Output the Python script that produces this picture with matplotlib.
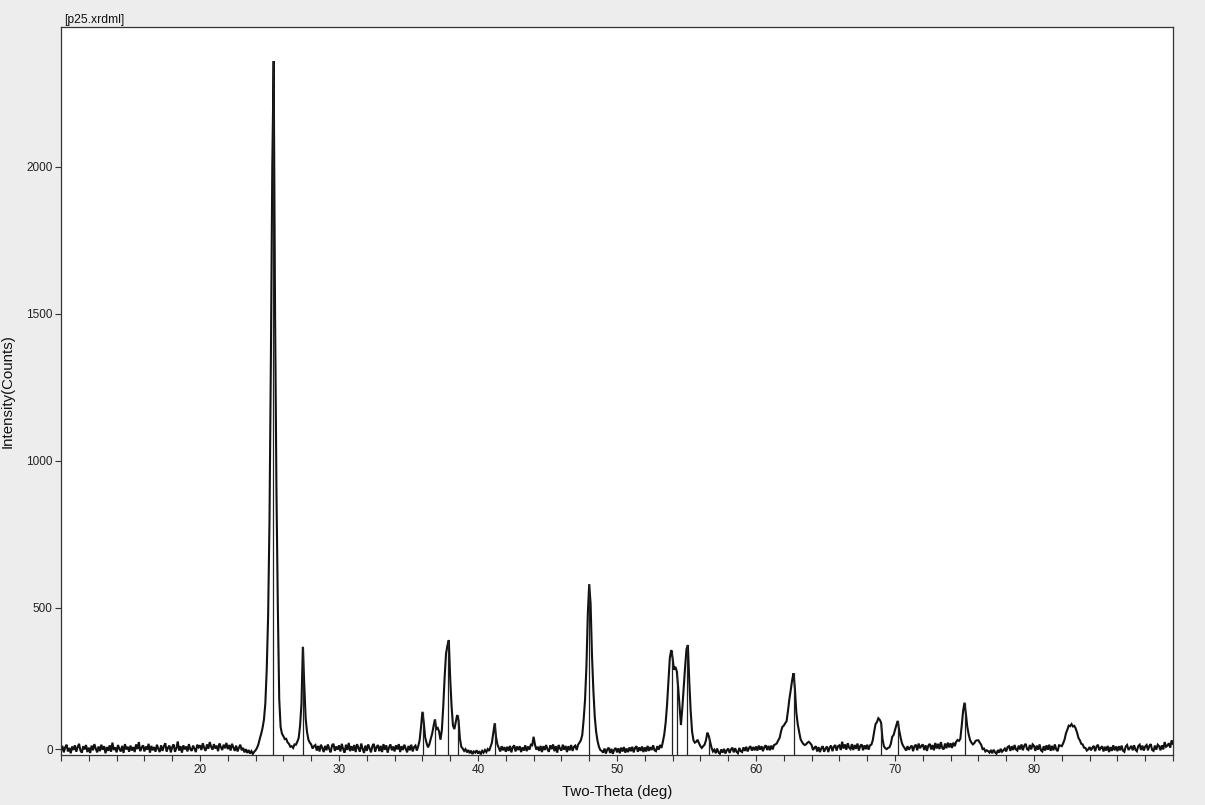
import numpy as np
import matplotlib
matplotlib.use("Agg")
import matplotlib.pyplot as plt
import matplotlib.transforms as mtransforms
from matplotlib.ticker import MultipleLocator

plt.rcParams['font.family'] = ['Liberation Sans', 'DejaVu Sans']

# ---- data ----
two_theta_start = 10.0
two_theta_step = 0.1

counts_10_30 = [
    14, 31, 9, 26, 35, 12, 24, 6, 29, 17,
    33, 11, 27, 38, 15, 8, 30, 19, 34, 10,
    25, 7, 32, 16, 37, 22, 9, 29, 13, 35,
    18, 30, 6, 27, 14, 33, 11, 42, 17, 26,
    9, 34, 21, 12, 31, 7, 37, 19, 28, 11,
    32, 15, 27, 10, 36, 20, 44, 13, 25, 33,
    12, 29, 18, 38, 8, 31, 16, 27, 11, 35,
    21, 10, 33, 14, 29, 40, 12, 25, 32, 9,
    27, 36, 11, 23, 46, 15, 30, 8, 33, 19,
    29, 12, 37, 20, 14, 32, 22, 10, 35, 26,
    33, 17, 40, 24, 14, 36, 21, 44, 28, 18,
    37, 22, 32, 13, 39, 27, 17, 35, 23, 41,
    20, 34, 15, 38, 26, 14, 32, 12, 25, 35,
    16, 24, 9, 20, 7, 17, 5, 13, 4, 11,
    16, 24, 36, 55, 72, 92, 120, 175, 290, 470,
    800, 1350, 2000, 2360, 1500, 900, 500, 190, 95, 72,
    64, 54, 55, 43, 38, 28, 30, 24, 36, 35,
    45, 58, 100, 175, 368, 240, 125, 78, 52, 42,
    36, 22, 30, 34, 15, 31, 12, 35, 24, 10,
    31, 16, 36, 20, 9, 33, 38, 14, 29, 18,
]

counts_30_50 = [
    33, 12, 38, 20, 8, 35, 17, 41, 13, 30,
    15, 34, 10, 37, 24, 11, 39, 21, 7, 32,
    14, 36, 22, 9, 30, 38, 11, 27, 34, 13,
    31, 10, 37, 18, 33, 8, 26, 36, 16, 29,
    12, 33, 19, 37, 10, 30, 17, 35, 22, 9,
    31, 16, 35, 12, 27, 32, 15, 30, 50, 95,
    147, 110, 60, 41, 26, 36, 55, 72, 98, 121,
    88, 92, 80, 52, 85, 165, 265, 345, 372, 391,
    260, 165, 100, 88, 112, 136, 118, 55, 28, 22,
    14, 20, 9, 17, 6, 15, 3, 12, 8, 16,
    5, 13, 2, 14, 8, 17, 10, 20, 14, 28,
    42, 75, 108, 60, 35, 24, 12, 30, 16, 27,
    11, 28, 14, 31, 9, 26, 33, 12, 29, 17,
    30, 10, 26, 15, 33, 13, 29, 18, 35, 33,
    62, 35, 18, 28, 14, 31, 10, 30, 17, 34,
    19, 11, 33, 20, 36, 13, 30, 8, 34, 22,
    15, 35, 18, 31, 10, 30, 16, 34, 14, 28,
    32, 17, 35, 42, 50, 68, 120, 187, 300, 480,
    581, 515, 340, 220, 130, 78, 48, 28, 17, 14,
    8, 22, 5, 19, 25, 7, 21, 4, 18, 24,
]

counts_50_70 = [
    9, 23, 6, 25, 12, 27, 8, 22, 10, 26,
    13, 28, 9, 24, 30, 11, 26, 14, 29, 10,
    26, 12, 31, 14, 27, 17, 33, 16, 13, 30,
    18, 34, 24, 45, 70, 110, 170, 250, 330, 357,
    330, 290, 300, 285, 230, 165, 102, 160, 230, 300,
    360, 374, 250, 150, 80, 50, 42, 45, 52, 40,
    30, 24, 30, 35, 50, 76, 65, 45, 25, 12,
    18, 6, 22, 9, 4, 19, 8, 21, 5, 16,
    22, 7, 19, 25, 9, 23, 11, 6, 24, 13,
    10, 26, 14, 28, 12, 24, 30, 15, 27, 16,
    29, 15, 32, 18, 30, 13, 27, 33, 17, 31,
    16, 32, 19, 34, 36, 40, 50, 58, 80, 96,
    100, 108, 115, 150, 190, 221, 255, 278, 225, 145,
    105, 80, 55, 45, 38, 34, 36, 42, 45, 40,
    34, 17, 24, 30, 12, 27, 10, 23, 30, 11,
    22, 29, 10, 26, 32, 13, 28, 34, 15, 30,
    33, 17, 45, 22, 36, 18, 40, 25, 20, 37,
    17, 34, 21, 39, 15, 31, 36, 16, 33, 20,
    35, 18, 33, 35, 50, 79, 105, 112, 125, 120,
    110, 55, 30, 23, 20, 24, 26, 38, 62, 68,
]

counts_70_90 = [
    85, 102, 116, 85, 60, 40, 30, 23, 15, 30,
    18, 26, 32, 13, 30, 35, 16, 39, 23, 31,
    36, 17, 33, 14, 32, 38, 19, 34, 16, 41,
    22, 38, 20, 44, 24, 19, 39, 23, 42, 26,
    40, 24, 42, 30, 45, 51, 48, 55, 100, 150,
    178, 140, 96, 70, 51, 42, 36, 40, 48, 50,
    50, 42, 35, 20, 22, 12, 16, 13, 8, 17,
    6, 18, 9, 4, 17, 8, 21, 11, 16, 22,
    12, 27, 30, 14, 30, 17, 34, 19, 15, 32,
    19, 36, 16, 32, 38, 20, 17, 34, 19, 36,
    31, 14, 32, 18, 36, 16, 12, 30, 15, 33,
    18, 35, 14, 31, 16, 36, 19, 13, 33, 32,
    30, 40, 53, 74, 86, 100, 98, 105, 97, 99,
    90, 76, 58, 50, 38, 36, 25, 24, 15, 19,
    27, 16, 25, 31, 13, 29, 35, 16, 24, 30,
    12, 28, 15, 31, 10, 27, 14, 33, 16, 29,
    13, 30, 16, 32, 15, 11, 29, 34, 17, 24,
    31, 16, 33, 18, 13, 30, 35, 17, 32, 15,
    29, 34, 16, 31, 37, 17, 14, 32, 18, 35,
    30, 16, 33, 19, 44, 28, 32, 40, 25, 50,
    38,
]

peak_positions = [25.27, 27.43, 36.02, 36.91, 37.87, 38.54, 41.22, 48.01,
                  53.93, 54.29, 55.06, 56.62, 62.73, 69.0, 70.24, 75.04]
peak_heights = [2360, 368, 147, 121, 391, 136, 108, 581,
                357, 285, 374, 65, 278, 110, 116, 178]

x_tick_labels = ['20', '30', '40', '50', '60', '70', '80']
y_tick_labels = ['0', '500', '1000', '1500', '2000']

title_text = '[p25.xrdml]'
x_label = 'Two-Theta (deg)'
y_label = 'Intensity(Counts)'

# ---- build ----
counts = np.array(counts_10_30 + counts_30_50 + counts_50_70 + counts_70_90, dtype=float)
two_theta = two_theta_start + two_theta_step * np.arange(len(counts))

fig = plt.figure(figsize=(12.05, 8.05), dpi=100, facecolor='#ededed')
ax = fig.add_axes([61 / 1205, 50 / 805, 1112 / 1205, 728 / 805])
ax.set_facecolor('white')

ax.plot(two_theta, counts, color='#111111', lw=1.5, solid_joinstyle='miter')
ax.vlines(peak_positions, 0, peak_heights, colors='#222222', lw=0.9)

ax.set_xlim(10, 90)
ax.set_ylim(0, 2476)

ax.set_xticks([float(t) for t in x_tick_labels])
ax.set_xticklabels(x_tick_labels)
ax.xaxis.set_minor_locator(MultipleLocator(2))
ax.set_yticks([float(t) for t in y_tick_labels])
ax.set_yticklabels(y_tick_labels)

ax.tick_params(axis='both', which='both', direction='out', length=4.5,
               width=0.8, color='#333333', labelsize=8.5, labelcolor='#222222')
ax.tick_params(axis='x', which='both', pad=2)
ax.tick_params(axis='y', which='both', pad=1.5)

# the bottom "0" label sits a few pixels above the frame in the original
off = mtransforms.ScaledTranslation(0, 6 / 100, fig.dpi_scale_trans)
t0 = ax.yaxis.get_major_ticks()[0]
t0.label1.set_transform(t0.label1.get_transform() + off)
t0.tick1line.set_transform(t0.tick1line.get_transform() + off)

for s in ax.spines.values():
    s.set_color('#333333')
    s.set_linewidth(0.9)

ax.set_xlabel(x_label, fontsize=10.8, color='#111111')
ax.set_ylabel(y_label, fontsize=10.8, color='#111111')
ax.xaxis.set_label_coords(0.5, -0.041)
ax.yaxis.set_label_coords(-0.042, 0.5)

ax.text(0.003, 1.002, title_text, transform=ax.transAxes, ha='left', va='bottom',
        fontsize=8.7, color='#111111')

fig.savefig('out.png', dpi=100, facecolor=fig.get_facecolor())
